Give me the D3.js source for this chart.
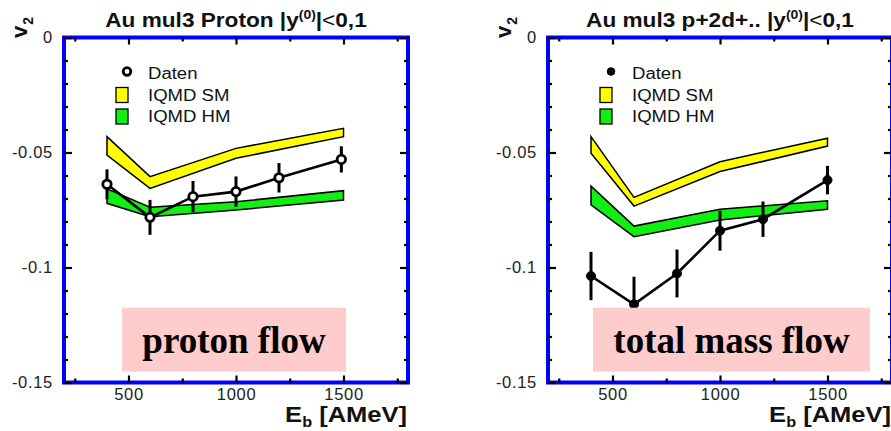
<!DOCTYPE html>
<html>
<head>
<meta charset="utf-8">
<script src="https://cdn.jsdelivr.net/npm/d3@7"></script>
<style>
  body { margin: 0; background: #fff; }
  svg { display: block; }
  .sans { font-family: "Liberation Sans", Arial, Helvetica, sans-serif; }
  .serif { font-family: "Liberation Serif", "Times New Roman", serif; }
</style>
</head>
<body>
<svg id="chart" width="891" height="431"></svg>
<script>
// Beam energies (AMeV) of the measured points and of the IQMD calculations
const energyProton = [400, 600, 800, 1000, 1200, 1490];
const v2Proton     = [-0.0638, -0.0782, -0.0692, -0.0670, -0.0610, -0.0530];
const errProton    = [0.0065, 0.0076, 0.0068, 0.0066, 0.0064, 0.0057];

const energyMass = [400, 600, 800, 1000, 1200, 1500];
const v2Mass     = [-0.1037, -0.1160, -0.1026, -0.0840, -0.0790, -0.0620];
const errMass    = [0.0105, 0.0120, 0.0104, 0.0087, 0.0077, 0.0062];

const energyModel = [400, 600, 1000, 1500];
// IQMD soft (SM) and hard (HM) momentum-dependent EoS, upper / lower band edges
const smHiProton = [-0.0431, -0.0605, -0.0482, -0.0395];
const smLoProton = [-0.0511, -0.0656, -0.0525, -0.0431];
const hmHiProton = [-0.0658, -0.0738, -0.0714, -0.0666];
const hmLoProton = [-0.0721, -0.0779, -0.0750, -0.0707];

const smHiMass = [-0.0431, -0.0695, -0.0540, -0.0438];
const smLoMass = [-0.0503, -0.0733, -0.0583, -0.0472];
const hmHiMass = [-0.0646, -0.0820, -0.0747, -0.0710];
const hmLoMass = [-0.0728, -0.0866, -0.0793, -0.0747];

const xMajor = [500, 1000, 1500];
const xMinor = [250, 750, 1250, 1750];
const yMajor = [0, -0.05, -0.1, -0.15];
const yTickLabels = ["0", "-0.05", "-0.1", "-0.15"];
const yMinor = d3.range(1, 15).filter(i => i % 5 !== 0).map(i => -i / 100);

const panels = [
  {
    left: 64, title: "Au mul3 Proton |y", energy: energyProton, v2: v2Proton, err: errProton,
    smHi: smHiProton, smLo: smLoProton, hmHi: hmHiProton, hmLo: hmLoProton,
    openMarker: true, note: "proton flow", noteBox: [122, 346]
  },
  {
    left: 548, title: "Au mul3 p+2d+.. |y", energy: energyMass, v2: v2Mass, err: errMass,
    smHi: smHiMass, smLo: smLoMass, hmHi: hmHiMass, hmLo: hmLoMass,
    openMarker: false, note: "total mass flow", noteBox: [593, 870]
  }
];

const svg = d3.select("#chart");
const plotTop = 37.5, plotBottom = 382.5, plotWidth = 344;
const SX = 1.16; // horizontal stretch used for the sans-serif captions

const y = d3.scaleLinear().domain([0, -0.15]).range([plotTop, plotBottom]);

function stretchedText(g, x, yPos, anchor, size, weight) {
  return g.append("text")
    .attr("class", "sans")
    .attr("transform", `translate(${x},${yPos}) scale(${SX},1)`)
    .attr("text-anchor", anchor)
    .attr("font-size", size)
    .attr("font-weight", weight)
    .attr("fill", "#111");
}

panels.forEach(p => {
  const x = d3.scaleLinear().domain([200, 1800]).range([p.left, p.left + plotWidth]);
  const g = svg.append("g");
  const right = p.left + plotWidth;

  // model bands
  const band = (hi, lo) => d3.area()
    .x((d, i) => x(energyModel[i]))
    .y0((d, i) => y(lo[i]))
    .y1((d, i) => y(hi[i]))(hi);
  g.append("path").attr("d", band(p.smHi, p.smLo))
    .attr("fill", "#ffff00").attr("stroke", "#000").attr("stroke-width", 1.5).attr("stroke-linejoin", "miter");
  g.append("path").attr("d", band(p.hmHi, p.hmLo))
    .attr("fill", "#11ee11").attr("stroke", "#000").attr("stroke-width", 1.5).attr("stroke-linejoin", "miter");

  // data: connecting line, error bars, markers
  const line = d3.line().x((d, i) => x(p.energy[i])).y(d => y(d));
  g.append("path").attr("d", line(p.v2))
    .attr("fill", "none").attr("stroke", "#000").attr("stroke-width", 2.6);
  g.selectAll(".err").data(p.v2).join("line")
    .attr("x1", (d, i) => x(p.energy[i])).attr("x2", (d, i) => x(p.energy[i]))
    .attr("y1", (d, i) => y(d + p.err[i])).attr("y2", (d, i) => y(d - p.err[i]))
    .attr("stroke", "#000").attr("stroke-width", 3);
  g.selectAll(".pt").data(p.v2).join("circle")
    .attr("cx", (d, i) => x(p.energy[i])).attr("cy", d => y(d))
    .attr("r", p.openMarker ? 4.2 : 4.5)
    .attr("fill", p.openMarker ? "#fff" : "#000")
    .attr("stroke", "#000").attr("stroke-width", p.openMarker ? 2.8 : 1);

  // annotation box laid over the plot area
  g.append("rect")
    .attr("x", p.noteBox[0]).attr("y", 307.7)
    .attr("width", p.noteBox[1] - p.noteBox[0]).attr("height", 64)
    .attr("fill", "#ffcccc");
  g.append("text")
    .attr("class", "serif")
    .attr("x", (p.noteBox[0] + p.noteBox[1]) / 2).attr("y", 353)
    .attr("text-anchor", "middle")
    .attr("font-size", 37).attr("font-weight", "bold")
    .attr("fill", "#000")
    .text(p.note);

  // frame
  g.append("rect")
    .attr("x", p.left).attr("y", plotTop).attr("width", plotWidth).attr("height", plotBottom - plotTop)
    .attr("fill", "none").attr("stroke", "#0000ff").attr("stroke-width", 4);

  // axes with inward ticks
  const axB = g.append("g").attr("transform", `translate(0,${plotBottom})`)
    .call(d3.axisBottom(x).tickValues(xMajor).tickSize(-7).tickPadding(6).tickFormat(d3.format("d")));
  const axT = g.append("g").attr("transform", `translate(0,${plotTop})`)
    .call(d3.axisTop(x).tickValues(xMajor).tickSize(-7).tickFormat(""));
  const axL = g.append("g").attr("transform", `translate(${p.left},0)`)
    .call(d3.axisLeft(y).tickValues(yMajor).tickSize(-8).tickPadding(11)
      .tickFormat((d, i) => yTickLabels[i]));
  const axR = g.append("g").attr("transform", `translate(${right},0)`)
    .call(d3.axisRight(y).tickValues(yMajor).tickSize(-8).tickFormat(""));
  const axBm = g.append("g").attr("transform", `translate(0,${plotBottom})`)
    .call(d3.axisBottom(x).tickValues(xMinor).tickSize(-4).tickFormat(""));
  const axTm = g.append("g").attr("transform", `translate(0,${plotTop})`)
    .call(d3.axisTop(x).tickValues(xMinor).tickSize(-4).tickFormat(""));
  const axLm = g.append("g").attr("transform", `translate(${p.left},0)`)
    .call(d3.axisLeft(y).tickValues(yMinor).tickSize(-4).tickFormat(""));
  const axRm = g.append("g").attr("transform", `translate(${right},0)`)
    .call(d3.axisRight(y).tickValues(yMinor).tickSize(-4).tickFormat(""));
  [axB, axT, axL, axR, axBm, axTm, axLm, axRm].forEach(a => {
    a.select(".domain").remove();
    a.selectAll(".tick line").attr("stroke", "#000").attr("stroke-width", 2.2);
    a.selectAll(".tick text")
      .attr("class", "sans").attr("font-size", 16.5).attr("fill", "#222")
      .attr("letter-spacing", 0.7);
  });

  // title
  const t = stretchedText(g, p.left + 172, 27, "middle", 19.5, "bold");
  t.append("tspan").text(p.title);
  t.append("tspan").attr("font-size", 12).attr("dy", -8).text("(0)");
  t.append("tspan").attr("dy", 8).text("|");
  t.append("tspan").attr("font-weight", "normal").text("<");
  t.append("tspan").text("0,1");

  // axis titles
  const xt = stretchedText(g, right - 1, 422, "end", 22, "bold");
  xt.append("tspan").text("E");
  xt.append("tspan").attr("font-size", 14).attr("dy", 5).text("b");
  xt.append("tspan").attr("dy", -5).text(" [AMeV]");

  const yt = g.append("text").attr("class", "sans")
    .attr("transform", `translate(${p.left - 37},38) rotate(-90)`)
    .attr("font-size", 22).attr("font-weight", "bold").attr("fill", "#111");
  yt.append("tspan").text("v");
  yt.append("tspan").attr("font-size", 14).attr("dy", 6).attr("dx", 1).text("2");

  // legend
  const lx = p.left + 63;
  g.append("circle").attr("cx", lx).attr("cy", 71.5).attr("r", 3.8)
    .attr("fill", p.openMarker ? "#fff" : "#000").attr("stroke", "#000")
    .attr("stroke-width", p.openMarker ? 2.8 : 1);
  [["IQMD SM", "#ffff00", 87.5], ["IQMD HM", "#11ee11", 109]].forEach(([lab, col, yy]) => {
    g.append("rect").attr("x", p.left + 52).attr("y", yy).attr("width", 12).attr("height", 15)
      .attr("fill", col).attr("stroke", "#000").attr("stroke-width", 1.3);
  });
  stretchedText(g, p.left + 84, 78.5, "start", 16, "normal").text("Daten");
  stretchedText(g, p.left + 84, 100.5, "start", 16, "normal").text("IQMD SM");
  stretchedText(g, p.left + 84, 122, "start", 16, "normal").text("IQMD HM");
});
</script>
</body>
</html>
